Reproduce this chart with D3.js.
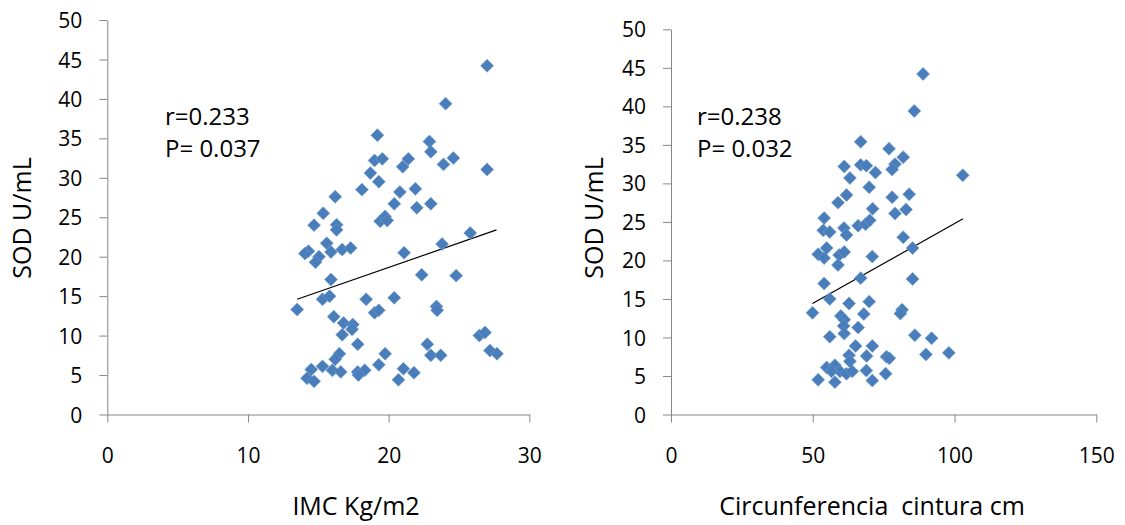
<!DOCTYPE html>
<html>
<head>
<meta charset="utf-8">
<script src="https://cdn.jsdelivr.net/npm/d3@7"></script>
<style>
  body { margin: 0; background: #fff; }
  svg { display: block; font-family: "Open Sans", sans-serif; }
</style>
</head>
<body>
<div id="chart"></div>
<script>
// values: [x, SOD U/mL]
const imcPoints = [
  [27.0,44.2],[24.05,39.4],[19.2,35.4],[22.9,34.6],[23.0,33.3],[19.0,32.2],[19.55,32.4],[21.4,32.4],
  [21.0,31.4],[23.9,31.7],[24.6,32.5],[27.0,31.05],[18.7,30.6],[19.3,29.5],[18.1,28.5],[16.2,27.6],
  [20.8,28.2],[21.9,28.6],[20.4,26.7],[22.0,26.2],[23.0,26.7],[15.35,25.5],[14.7,24.0],[16.3,24.05],
  [16.3,23.4],[19.4,24.5],[19.75,25.1],[19.9,24.6],[15.6,21.7],[14.3,20.7],[14.05,20.4],[15.05,20.0],
  [14.8,19.3],[15.9,20.6],[16.7,20.9],[17.3,21.1],[21.1,20.5],[23.8,21.6],[25.8,23.0],[15.9,17.1],
  [22.35,17.7],[24.8,17.6],[15.3,14.6],[15.8,15.0],[13.5,13.3],[18.4,14.6],[20.4,14.8],[19.0,12.9],
  [19.3,13.2],[23.4,13.7],[23.45,13.2],[16.1,12.4],[16.8,11.6],[17.45,11.4],[17.4,10.8],[16.7,10.1],
  [17.8,8.9],[22.75,8.9],[26.45,10.0],[26.85,10.4],[27.2,8.1],[27.7,7.7],[23.0,7.5],[23.7,7.5],
  [19.75,7.7],[16.5,7.7],[16.2,7.0],[15.3,6.1],[14.5,5.7],[14.2,4.6],[14.7,4.2],[16.0,5.6],
  [16.6,5.4],[17.8,5.4],[18.3,5.6],[17.85,5.0],[19.3,6.3],[21.05,5.8],[20.7,4.4],[21.8,5.3]
];
const imcTrend = [[13.5,14.6],[27.67,23.4]];

const cinturaPoints = [
  [88.9,44.2],[85.8,39.4],[66.9,35.4],[76.9,34.5],[81.9,33.4],[79.0,32.5],[78.0,31.8],[61.1,32.2],
  [66.9,32.4],[68.9,32.3],[72.1,31.4],[102.9,31.05],[63.1,30.7],[69.9,29.5],[61.9,28.5],[78.0,28.2],
  [84.0,28.6],[58.9,27.5],[71.1,26.7],[79.0,26.1],[82.9,26.6],[54.0,25.5],[53.7,23.9],[56.0,23.7],
  [61.0,24.2],[61.9,23.3],[66.0,24.5],[68.6,24.7],[70.1,25.2],[81.9,23.0],[85.2,21.6],[51.9,20.8],
  [54.9,21.6],[54.0,20.3],[59.3,20.7],[61.1,21.1],[58.9,19.4],[71.0,20.5],[54.0,17.0],[66.9,17.7],
  [85.2,17.6],[56.0,15.0],[62.8,14.4],[69.9,14.65],[49.9,13.2],[68.0,13.05],[81.5,13.6],[80.9,13.1],
  [59.9,12.8],[61.1,12.3],[60.9,11.5],[66.0,11.3],[56.0,10.1],[61.1,10.5],[86.0,10.3],[91.9,9.9],
  [65.1,8.9],[71.0,8.9],[69.0,7.6],[62.8,7.7],[76.0,7.5],[77.0,7.3],[89.9,7.8],[98.0,8.0],
  [54.9,6.1],[57.8,6.4],[59.6,5.6],[61.9,5.3],[63.9,5.6],[63.1,6.9],[68.9,5.7],[75.7,5.3],
  [51.9,4.5],[57.8,4.2],[71.0,4.4],[56.6,5.6]
];
const cinturaTrend = [[49.9,14.4],[103.0,25.4]];

const sodTicks = [0,5,10,15,20,25,30,35,40,45,50];
const imcTicks = [0,10,20,30];
const cinturaTicks = [0,50,100,150];
const yTitle = "SOD U/mL";

const svg = d3.select("#chart")
  .append("svg")
  .attr("width", 1125)
  .attr("height", 525);

const axisColor = "#868686";
const dotColor = "#4a7ebb";

const drawPanel = (opts) => {
  const xScale = d3.scaleLinear()
    .domain([opts.xTicks[0], opts.xTicks[opts.xTicks.length - 1]])
    .range([opts.left, opts.right]);

  const yScale = d3.scaleLinear()
    .domain([0, 50])
    .range([opts.bottom, opts.top]);

  // y axis
  const yAxis = svg.append("g")
    .attr("transform", `translate(${opts.left},0)`)
    .call(d3.axisLeft(yScale).tickValues(sodTicks).tickSize(8).tickSizeOuter(0));
  yAxis.selectAll("text")
    .attr("x", -25)
    .attr("dy", "0.36em")
    .attr("font-size", 21)
    .attr("font-family", "Open Sans")
    .attr("fill", "#000");

  // x axis
  const xAxis = svg.append("g")
    .attr("transform", `translate(0,${opts.bottom})`)
    .call(d3.axisBottom(xScale).tickValues(opts.xTicks).tickSize(8).tickSizeOuter(0));
  xAxis.selectAll("text")
    .attr("y", 48)
    .attr("dy", 0)
    .attr("font-size", 21)
    .attr("font-family", "Open Sans")
    .attr("fill", "#000");

  svg.selectAll(".domain, .tick line").attr("stroke", axisColor);

  // axis titles
  svg.append("text")
    .text(opts.xTitle)
    .attr("x", opts.xTitleX)
    .attr("y", 515)
    .attr("text-anchor", "middle")
    .attr("font-size", 25)
    .style("white-space", "pre");

  svg.append("text")
    .text(yTitle)
    .attr("transform", `translate(${opts.yTitleX},218) rotate(-90)`)
    .attr("text-anchor", "middle")
    .attr("font-size", 25);

  // r and P
  svg.append("text")
    .text(opts.r)
    .attr("x", opts.statX)
    .attr("y", 125)
    .attr("font-size", 24);
  svg.append("text")
    .text(opts.p)
    .attr("x", opts.statX)
    .attr("y", 157)
    .attr("font-size", 24);

  // trend line
  svg.append("line")
    .attr("x1", xScale(opts.trend[0][0]))
    .attr("y1", yScale(opts.trend[0][1]))
    .attr("x2", xScale(opts.trend[1][0]))
    .attr("y2", yScale(opts.trend[1][1]))
    .attr("stroke", "#000")
    .attr("stroke-width", 1.2);

  // diamonds
  svg.append("g")
    .selectAll("path")
    .data(opts.points)
    .join("path")
      .attr("d", d3.symbol(d3.symbolSquare, 84))
      .attr("transform", d => `translate(${xScale(d[0])},${yScale(d[1])}) rotate(45)`)
      .attr("fill", dotColor)
      .attr("stroke", "#6f9ad0")
      .attr("stroke-width", 0.6);
};

drawPanel({
  points: imcPoints, trend: imcTrend, xTicks: imcTicks,
  left: 107.3, right: 529.3, top: 20, bottom: 414.5,
  xTitle: "IMC Kg/m2", xTitleX: 356, yTitleX: 31,
  r: "r=0.233", p: "P= 0.037", statX: 165
});

drawPanel({
  points: cinturaPoints, trend: cinturaTrend, xTicks: cinturaTicks,
  left: 671, right: 1096.3, top: 29.3, bottom: 414.5,
  xTitle: "Circunferencia  cintura cm", xTitleX: 872, yTitleX: 603,
  r: "r=0.238", p: "P= 0.032", statX: 697
});
</script>
</body>
</html>
